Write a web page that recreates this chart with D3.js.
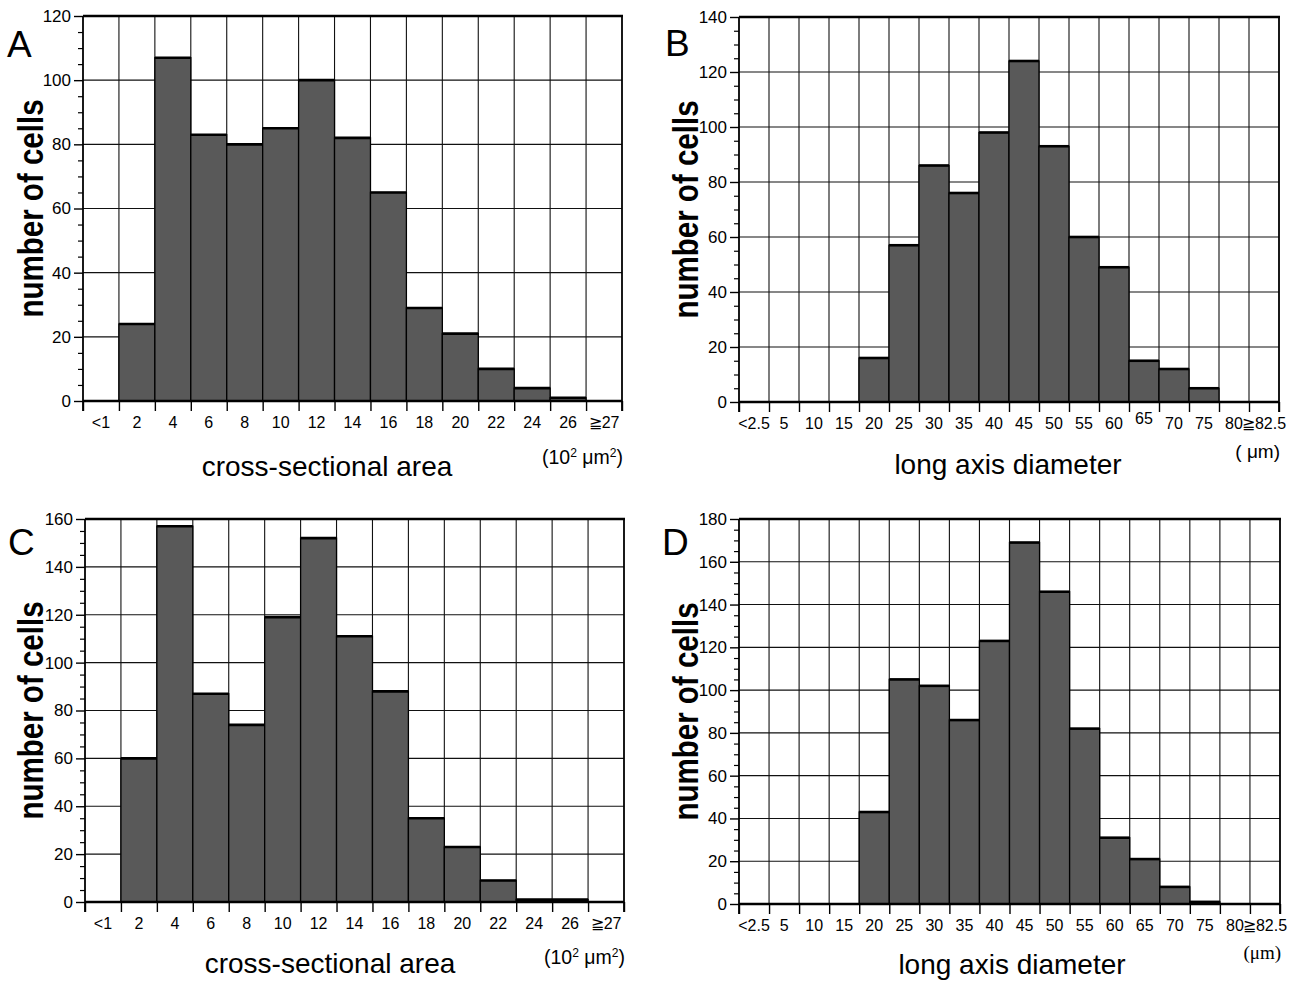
<!DOCTYPE html>
<html><head><meta charset="utf-8">
<script src="https://cdn.jsdelivr.net/npm/d3@7"></script>
<style>body{margin:0;background:#fff;} svg{display:block}</style>
</head><body>
<svg id="chart" width="1295" height="981"></svg>
<script>
// ---------- data ----------
const areaCategories = ["<1","2","4","6","8","10","12","14","16","18","20","22","24","26","\u226727"];
const diameterCategories = ["<2.5","5","10","15","20","25","30","35","40","45","50","55","60","65","70","75","80","\u226782.5"];
const countsA = [0,24,107,83,80,85,100,82,65,29,21,10,4,1,0];
const countsB = [0,0,0,0,16,57,86,76,98,124,93,60,49,15,12,5,0,0];
const countsC = [0,60,157,87,74,119,152,111,88,35,23,9,1,1,0];
const countsD = [0,0,0,0,43,105,102,86,123,169,146,82,31,21,8,1,0,0];
const yMaxA = 120, yMaxB = 140, yMaxC = 160, yMaxD = 180;
const yTitle = "number of cells";
const areaTitle = "cross-sectional area";
const diameterTitle = "long axis diameter";

// ---------- drawing ----------
const svg = d3.select("#chart");
const SANS = "'Liberation Sans', Arial, Helvetica, sans-serif";

function drawPanel(cfg) {
  const g = svg.append("g");
  const {left, right, top, bottom, cats, values, yMax} = cfg;
  const x = d3.scaleBand().domain(cats).range([left, right]).padding(0);
  const xb = d3.scaleLinear().domain([0, cats.length]).range([left, right]);
  const y = d3.scaleLinear().domain([0, yMax]).range([bottom, top]);
  const ink = "#111";

  // grid
  g.selectAll(".hg").data(d3.range(20, yMax, 20)).join("line")
    .attr("x1", left).attr("x2", right).attr("y1", d => y(d)).attr("y2", d => y(d))
    .attr("stroke", ink).attr("stroke-width", 1.1);
  g.selectAll(".vg").data(d3.range(1, cats.length)).join("line")
    .attr("x1", d => xb(d)).attr("x2", d => xb(d)).attr("y1", top).attr("y2", bottom)
    .attr("stroke", ink).attr("stroke-width", 1.1);

  // bars
  const data = cats.map((c, i) => ({c, v: values[i]})).filter(d => d.v > 0);
  g.selectAll(".bar").data(data).join("rect")
    .attr("x", d => x(d.c)).attr("y", d => y(d.v))
    .attr("width", x.bandwidth()).attr("height", d => y(0) - y(d.v))
    .attr("fill", "#595959").attr("stroke", "#000").attr("stroke-width", 1.3);
  g.selectAll(".bartop").data(data).join("line")
    .attr("x1", d => x(d.c)).attr("x2", d => x(d.c) + x.bandwidth())
    .attr("y1", d => y(d.v)).attr("y2", d => y(d.v))
    .attr("stroke", "#000").attr("stroke-width", 2.6);

  // frame
  g.append("line").attr("x1", left).attr("x2", right).attr("y1", y(0)).attr("y2", y(0))
    .attr("stroke", "#000").attr("stroke-width", 2.6);
  g.append("line").attr("x1", left).attr("x2", right + 1).attr("y1", top).attr("y2", top)
    .attr("stroke", "#000").attr("stroke-width", 2.6);
  g.append("line").attr("x1", right).attr("x2", right).attr("y1", top).attr("y2", bottom + 10)
    .attr("stroke", "#000").attr("stroke-width", 1.8);
  g.append("line").attr("x1", left).attr("x2", left).attr("y1", top).attr("y2", bottom + 10)
    .attr("stroke", "#000").attr("stroke-width", 1.8);

  // y axis (major + minor ticks)
  const yAxis = g.append("g").attr("transform", `translate(${left},0)`)
    .call(d3.axisLeft(y).tickValues(d3.range(0, yMax + 1, 20)).tickSize(9).tickSizeOuter(0).tickPadding(3));
  yAxis.select(".domain").remove();
  yAxis.selectAll("line").attr("stroke", "#000").attr("stroke-width", 1.4);
  yAxis.selectAll("text").attr("font-family", SANS).attr("font-size", 17).attr("fill", "#000");
  const yMinor = g.append("g").attr("transform", `translate(${left},0)`)
    .call(d3.axisLeft(y).tickValues(d3.range(5, yMax, 5).filter(v => v % 20 !== 0)).tickSize(5).tickFormat(""));
  yMinor.select(".domain").remove();
  yMinor.selectAll("line").attr("stroke", "#000").attr("stroke-width", 1.2);

  // x axis: ticks at bin boundaries, labels at bin centres
  const xTicks = g.append("g").attr("transform", `translate(0,${bottom})`)
    .call(d3.axisBottom(xb).tickValues(d3.range(0, cats.length + 1)).tickSize(10).tickFormat(""));
  xTicks.select(".domain").remove();
  xTicks.selectAll("line").attr("stroke", "#000").attr("stroke-width", 1.4);
  const xLabels = g.append("g").attr("transform", `translate(0,${bottom})`)
    .call(d3.axisBottom(x).tickSize(0).tickPadding(16));
  xLabels.select(".domain").remove();
  xLabels.selectAll("text").attr("font-family", SANS).attr("font-size", cfg.xLabelSize).attr("fill", "#000")
    .attr("transform", d => d === cfg.raised ? "translate(0,-5)" : null);

  // panel letter
  g.append("text").attr("x", cfg.letterX).attr("y", cfg.letterY).text(cfg.letter)
    .attr("font-family", SANS).attr("font-size", 37).attr("fill", "#000");

  // y title (bold, condensed along its length)
  g.append("text").attr("transform", `translate(${cfg.yTitleX},${(top + bottom) / 2}) rotate(-90) scale(0.82,1)`)
    .attr("text-anchor", "middle").attr("font-family", SANS).attr("font-weight", "bold")
    .attr("font-size", 36).attr("fill", "#000").text(yTitle);

  // x title
  g.append("text").attr("x", cfg.xTitleX).attr("y", bottom + cfg.xTitleDy).attr("text-anchor", "middle")
    .attr("font-family", SANS).attr("font-size", 28).attr("fill", "#000").text(cfg.xTitle);

  // units
  const u = g.append("text").attr("x", right + 1).attr("y", bottom + cfg.unitDy).attr("text-anchor", "end")
    .attr("font-family", cfg.unitFont).attr("font-size", cfg.unitSize).attr("fill", "#000");
  cfg.unitParts.forEach(p => {
    const t = u.append("tspan").text(p.t);
    if (p.sup) t.attr("baseline-shift", "super").attr("font-size", cfg.unitSize * 0.62);
  });
}

const areaUnit = [{t: "(10"}, {t: "2", sup: true}, {t: " \u03bcm"}, {t: "2", sup: true}, {t: ")"}];

drawPanel({left: 83, right: 622, top: 16, bottom: 401, cats: areaCategories, values: countsA, yMax: yMaxA,
  letter: "A", letterX: 7, letterY: 57, yTitleX: 43, xTitle: areaTitle, xTitleX: 327, xTitleDy: 75,
  xLabelSize: 16, unitParts: areaUnit, unitFont: SANS, unitSize: 19.5, unitDy: 63});
drawPanel({left: 739, right: 1279, top: 17, bottom: 402, cats: diameterCategories, values: countsB, yMax: yMaxB,
  letter: "B", letterX: 665, letterY: 56, yTitleX: 698, xTitle: diameterTitle, xTitleX: 1008, xTitleDy: 72,
  xLabelSize: 16, raised: "65", unitParts: [{t: "( \u03bcm)"}], unitFont: SANS, unitSize: 19, unitDy: 56});
drawPanel({left: 85, right: 624, top: 519, bottom: 902, cats: areaCategories, values: countsC, yMax: yMaxC,
  letter: "C", letterX: 8, letterY: 555, yTitleX: 43, xTitle: areaTitle, xTitleX: 330, xTitleDy: 71,
  xLabelSize: 16, unitParts: areaUnit, unitFont: SANS, unitSize: 19.5, unitDy: 62});
drawPanel({left: 739, right: 1280, top: 519, bottom: 904, cats: diameterCategories, values: countsD, yMax: yMaxD,
  letter: "D", letterX: 662, letterY: 555, yTitleX: 698, xTitle: diameterTitle, xTitleX: 1012, xTitleDy: 70,
  xLabelSize: 16, unitParts: [{t: "(\u03bcm)"}], unitFont: "'Liberation Serif', 'Times New Roman', serif", unitSize: 19, unitDy: 55});
</script>
</body></html>
